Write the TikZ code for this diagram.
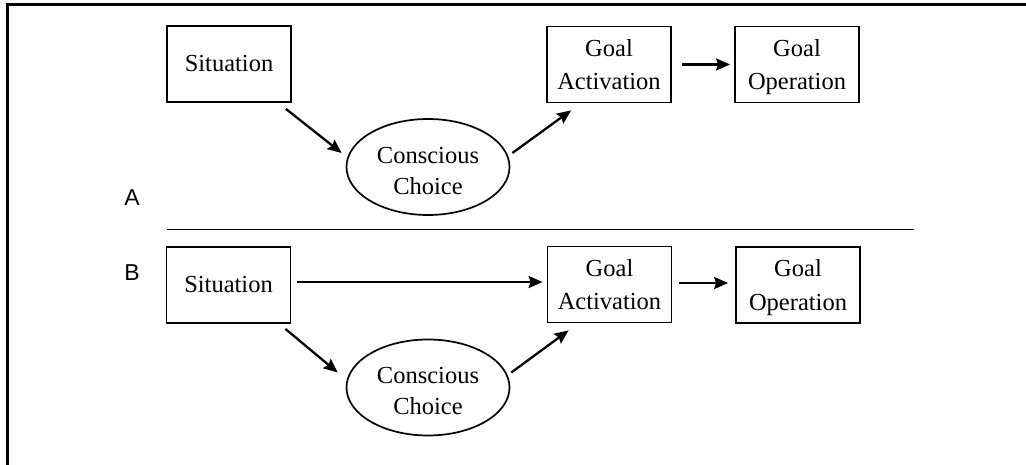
\documentclass[tikz,border=0pt]{standalone}
\usepackage{fontspec}
\setmainfont{Liberation Serif}
\newfontfamily\labfont{Liberation Sans}
\usetikzlibrary{arrows.meta,calc,shapes.geometric}
\newcommand{\nodepth}[1]{\raisebox{0pt}[\height][0pt]{#1}}
\begin{document}
\begin{tikzpicture}[x=1pt,y=-1pt,
  box/.style={draw,line width=1.8pt,minimum width=124pt,minimum height=76pt,inner sep=0pt,align=center,font=\fontsize{24.5}{33.5}\selectfont},
  oval/.style={draw,ellipse,line width=1.7pt,minimum width=163pt,minimum height=96pt,inner sep=0pt},
  ovaltext/.style={align=center,inner sep=0pt,font=\fontsize{24.5}{31}\selectfont},
  arr/.style={line width=2.3pt,-{Stealth[length=14pt,width=12pt,inset=2pt]}},
  lab/.style={font=\labfont\fontsize{23}{23}\selectfont,inner sep=0pt},
  frame/.style={line width=3pt,line cap=rect}]
\useasboundingbox (0,0) rectangle (1026,465);
% frame
\coordinate (ftr) at (1026,5);
\coordinate (ftl) at (7,5);
\coordinate (fbl) at (7,465);
\draw[frame] (ftr) -- (ftl) -- (fbl);
% separator
\coordinate (s1) at (167,229.5);
\coordinate (s2) at (914,229.5);
\draw[line width=1.8pt] (s1) -- (s2);
% labels
\node[lab] (la) at (132,198) {A};
\node[lab] (lb) at (132,273) {B};
% panel A
\node[box] (sa) at (229,64) {Situation};
\node[box] (ga) at (609,64.5) {Goal\\Activation};
\node[box] (goa) at (797,64.5) {Goal\\\nodepth{Operation}};
\node[oval] (ca) at (428,167) {};
\node[ovaltext] (cat) at (428,171.5) {Conscious\\Choice};
\draw[arr] ($(sa.south east)+(-6,6)$) -- ($(ca.west)+(-4,-14)$);
\draw[arr] ($(ca.east)+(2,-14)$) -- ($(ga.south west)+(25,7)$);
\draw[arr] ($(ga.east)+(10,0)$) -- ($(goa.west)+(-4,0)$);
% panel B
\node[box] (sb) at (228.5,285) {Situation};
\node[box] (gb) at (609.5,284.5) {Goal\\Activation};
\node[box] (gob) at (798,285) {Goal\\\nodepth{Operation}};
\node[oval] (cb) at (428,387.5) {};
\node[ovaltext] (cbt) at (428,391) {Conscious\\Choice};
\draw[arr] ($(sb.east)+(6,-3)$) -- ($(gb.west)+(-4,-2.5)$);
\draw[arr] ($(sb.south east)+(-6,5)$) -- ($(cb.west)+(-8,-15)$);
\draw[arr] ($(cb.east)+(1,-15)$) -- ($(gb.south west)+(22,7)$);
\draw[arr] ($(gb.east)+(7,-1.5)$) -- ($(gob.west)+(-7,-2)$);
\end{tikzpicture}
\end{document}
